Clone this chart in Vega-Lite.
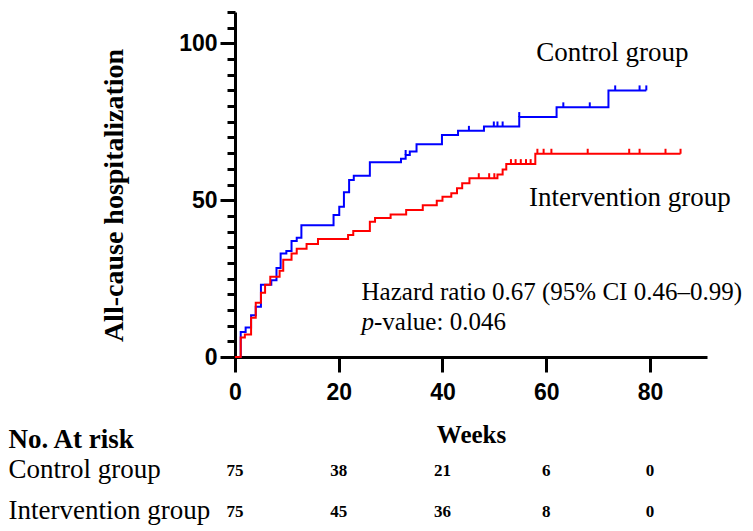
{
  "$schema": "https://vega.github.io/schema/vega-lite/v6.json",
  "padding": {"left": 8, "top": 10, "right": 2, "bottom": 2},
  "bounds": "flush",
  "spacing": 71,
  "config": {"view": {"stroke": null}, "axis": {"grid": false}},
  "datasets": {
    "curves": [
      {"group": "Control group", "week": 0, "pct": 0},
      {"group": "Control group", "week": 1.1, "pct": 8},
      {"group": "Control group", "week": 2.05, "pct": 9.4},
      {"group": "Control group", "week": 3.1, "pct": 13.3},
      {"group": "Control group", "week": 4.0, "pct": 16},
      {"group": "Control group", "week": 5.0, "pct": 23},
      {"group": "Control group", "week": 7.0, "pct": 24.5},
      {"group": "Control group", "week": 8.0, "pct": 28.4},
      {"group": "Control group", "week": 8.8, "pct": 33},
      {"group": "Control group", "week": 9.9, "pct": 33.8},
      {"group": "Control group", "week": 10.9, "pct": 37},
      {"group": "Control group", "week": 11.9, "pct": 38},
      {"group": "Control group", "week": 12.8, "pct": 42},
      {"group": "Control group", "week": 19.0, "pct": 45.3},
      {"group": "Control group", "week": 20.1, "pct": 47.9},
      {"group": "Control group", "week": 21.0, "pct": 52.5},
      {"group": "Control group", "week": 22.0, "pct": 56.4},
      {"group": "Control group", "week": 22.9, "pct": 57.8},
      {"group": "Control group", "week": 26.0, "pct": 62.1},
      {"group": "Control group", "week": 32.0, "pct": 63.2},
      {"group": "Control group", "week": 32.9, "pct": 64.4},
      {"group": "Control group", "week": 33.7, "pct": 65.5},
      {"group": "Control group", "week": 35.0, "pct": 67.8},
      {"group": "Control group", "week": 39.9, "pct": 70.8},
      {"group": "Control group", "week": 43.0, "pct": 72.1},
      {"group": "Control group", "week": 48.0, "pct": 73.5},
      {"group": "Control group", "week": 54.8, "pct": 76.5},
      {"group": "Control group", "week": 62.0, "pct": 79.6},
      {"group": "Control group", "week": 72.0, "pct": 85.0},
      {"group": "Control group", "week": 79.3, "pct": 85.0},
      {"group": "Intervention group", "week": 0, "pct": 0},
      {"group": "Intervention group", "week": 1.1, "pct": 6.2},
      {"group": "Intervention group", "week": 1.9, "pct": 7.2},
      {"group": "Intervention group", "week": 3.1, "pct": 12.5},
      {"group": "Intervention group", "week": 4.0, "pct": 17.3},
      {"group": "Intervention group", "week": 5.0, "pct": 20.5},
      {"group": "Intervention group", "week": 5.8, "pct": 23},
      {"group": "Intervention group", "week": 6.8, "pct": 25.6},
      {"group": "Intervention group", "week": 8.6, "pct": 27.5},
      {"group": "Intervention group", "week": 9.3, "pct": 31},
      {"group": "Intervention group", "week": 10.9, "pct": 33},
      {"group": "Intervention group", "week": 11.9, "pct": 34.5},
      {"group": "Intervention group", "week": 13.8, "pct": 36},
      {"group": "Intervention group", "week": 16.0, "pct": 37.6},
      {"group": "Intervention group", "week": 21.8, "pct": 38.9},
      {"group": "Intervention group", "week": 22.8, "pct": 40.2},
      {"group": "Intervention group", "week": 26.0, "pct": 43.1},
      {"group": "Intervention group", "week": 27.0, "pct": 44.3},
      {"group": "Intervention group", "week": 30.0, "pct": 45.4},
      {"group": "Intervention group", "week": 33.0, "pct": 46.9},
      {"group": "Intervention group", "week": 36.2, "pct": 48.4},
      {"group": "Intervention group", "week": 38.9, "pct": 49.8},
      {"group": "Intervention group", "week": 40.0, "pct": 51.1},
      {"group": "Intervention group", "week": 41.7, "pct": 52.2},
      {"group": "Intervention group", "week": 42.8, "pct": 53.8},
      {"group": "Intervention group", "week": 43.8, "pct": 55.4},
      {"group": "Intervention group", "week": 45.2, "pct": 57.0},
      {"group": "Intervention group", "week": 50.6, "pct": 58.2},
      {"group": "Intervention group", "week": 51.6, "pct": 59.8},
      {"group": "Intervention group", "week": 52.3, "pct": 61.5},
      {"group": "Intervention group", "week": 57.9, "pct": 64.8},
      {"group": "Intervention group", "week": 85.9, "pct": 64.8}
    ],
    "censored": [
      {"group": "Control group", "week": 32.9, "pct": 64.4},
      {"group": "Control group", "week": 45.1, "pct": 72.1},
      {"group": "Control group", "week": 49.9, "pct": 73.5},
      {"group": "Control group", "week": 50.6, "pct": 73.5},
      {"group": "Control group", "week": 51.6, "pct": 73.5},
      {"group": "Control group", "week": 54.8, "pct": 76.5},
      {"group": "Control group", "week": 63.3, "pct": 79.6},
      {"group": "Control group", "week": 68.4, "pct": 79.6},
      {"group": "Control group", "week": 73.3, "pct": 85.0},
      {"group": "Control group", "week": 78.0, "pct": 85.0},
      {"group": "Control group", "week": 79.3, "pct": 85.0},
      {"group": "Intervention group", "week": 47.0, "pct": 57.0},
      {"group": "Intervention group", "week": 49.0, "pct": 57.0},
      {"group": "Intervention group", "week": 50.0, "pct": 57.0},
      {"group": "Intervention group", "week": 53.2, "pct": 61.5},
      {"group": "Intervention group", "week": 54.1, "pct": 61.5},
      {"group": "Intervention group", "week": 55.1, "pct": 61.5},
      {"group": "Intervention group", "week": 56.1, "pct": 61.5},
      {"group": "Intervention group", "week": 57.0, "pct": 61.5},
      {"group": "Intervention group", "week": 58.3, "pct": 64.8},
      {"group": "Intervention group", "week": 59.5, "pct": 64.8},
      {"group": "Intervention group", "week": 61.0, "pct": 64.8},
      {"group": "Intervention group", "week": 68.0, "pct": 64.8},
      {"group": "Intervention group", "week": 76.0, "pct": 64.8},
      {"group": "Intervention group", "week": 78.0, "pct": 64.8},
      {"group": "Intervention group", "week": 83.0, "pct": 64.8},
      {"group": "Intervention group", "week": 85.9, "pct": 64.8}
    ],
    "notes": [
      {"note": "Control group", "week": 58.1, "pct": 96.8},
      {"note": "Intervention group", "week": 56.7, "pct": 50.8},
      {"note": "Hazard ratio 0.67 (95% CI 0.46–0.99)", "week": 24.4, "pct": 20.8},
      {"note": "p", "week": 24.4, "pct": 11.2},
      {"note": "-value: 0.046", "week": 26.8, "pct": 11.2}
    ],
    "atrisk": [
      {"group": "Control group", "week": 0, "n": 75},
      {"group": "Control group", "week": 20, "n": 38},
      {"group": "Control group", "week": 40, "n": 21},
      {"group": "Control group", "week": 60, "n": 6},
      {"group": "Control group", "week": 80, "n": 0},
      {"group": "Intervention group", "week": 0, "n": 75},
      {"group": "Intervention group", "week": 20, "n": 45},
      {"group": "Intervention group", "week": 40, "n": 36},
      {"group": "Intervention group", "week": 60, "n": 8},
      {"group": "Intervention group", "week": 80, "n": 0}
    ]
  },
  "vconcat": [
    {
      "width": 472,
      "height": 345,
      "encoding": {
        "x": {
          "field": "week", "type": "quantitative",
          "scale": {"domain": [0, 91], "nice": false, "zero": false},
          "axis": {
            "values": [0, 20, 40, 60, 80],
            "title": "Weeks", "titleFont": "Liberation Serif", "titleFontSize": 25, "titleFontWeight": "bold", "titleColor": "black", "titlePadding": 18,
            "domainColor": "black", "domainWidth": 3,
            "tickColor": "black", "tickWidth": 3, "tickSize": 15,
            "labelFont": "Liberation Sans", "labelFontWeight": "bold", "labelFontSize": 23, "labelColor": "black", "labelPadding": 9, "labelFlush": false
          }
        },
        "y": {
          "field": "pct", "type": "quantitative",
          "scale": {"domain": [0, 110], "nice": false},
          "axis": {
            "values": [0, 5, 10, 15, 20, 25, 30, 35, 40, 45, 50, 55, 60, 65, 70, 75, 80, 85, 90, 95, 100, 105, 110],
            "labelExpr": "datum.value % 50 === 0 ? datum.label : ''",
            "labelOverlap": false,
            "title": "All-cause hospitalization", "titleFont": "Liberation Serif", "titleFontSize": 28, "titleFontWeight": "bold", "titleColor": "black", "titlePadding": 50, "titleY": 183,
            "domainColor": "black", "domainWidth": 3,
            "tickColor": "black", "tickWidth": 3,
            "tickSize": {"condition": {"test": "datum.value % 50 === 0", "value": 15}, "value": 8},
            "labelFont": "Liberation Sans", "labelFontWeight": "bold", "labelColor": "black", "labelPadding": 3, "labelFlush": false,
            "labelFontSize": {"condition": {"test": "datum.value % 50 === 0", "value": 23}, "value": 0}
          }
        }
      },
      "layer": [
        {
          "data": {"name": "curves"},
          "mark": {"type": "line", "interpolate": "step-after", "strokeWidth": 2},
          "encoding": {
            "color": {
              "field": "group", "type": "nominal",
              "scale": {"domain": ["Control group", "Intervention group"], "range": ["#0000ff", "#ff0000"]},
              "legend": null
            }
          }
        },
        {
          "data": {"name": "censored"},
          "mark": {"type": "point", "shape": "M0,0V-1", "size": 100, "filled": false, "strokeWidth": 2, "opacity": 1},
          "encoding": {
            "color": {"field": "group", "type": "nominal", "legend": null}
          }
        },
        {
          "data": {"name": "notes"},
          "transform": [{"filter": "datum.note === 'Control group' || datum.note === 'Intervention group'"}],
          "mark": {"type": "text", "align": "left", "baseline": "middle", "font": "Liberation Serif", "fontSize": 27, "color": "black"},
          "encoding": {"text": {"field": "note", "type": "nominal"}}
        },
        {
          "data": {"name": "notes"},
          "transform": [{"filter": "datum.note !== 'Control group' && datum.note !== 'Intervention group' && datum.note !== 'p'"}],
          "mark": {"type": "text", "align": "left", "baseline": "middle", "font": "Liberation Serif", "fontSize": 25, "color": "black"},
          "encoding": {"text": {"field": "note", "type": "nominal"}}
        },
        {
          "data": {"name": "notes"},
          "transform": [{"filter": "datum.note === 'p'"}],
          "mark": {"type": "text", "align": "left", "baseline": "middle", "font": "Liberation Serif", "fontSize": 25, "fontStyle": "italic", "color": "black"},
          "encoding": {"text": {"field": "note", "type": "nominal"}}
        }
      ]
    },
    {
      "width": 472,
      "height": 82,
      "data": {"name": "atrisk"},
      "mark": {"type": "text", "font": "Liberation Serif", "fontWeight": "bold", "fontSize": 17, "baseline": "middle", "dy": 2, "color": "black"},
      "encoding": {
        "x": {"field": "week", "type": "quantitative", "scale": {"domain": [0, 91], "nice": false, "zero": false}, "axis": null},
        "y": {
          "field": "group", "type": "nominal",
          "scale": {"type": "point", "domain": ["No. At risk", "Control group", "Intervention group"], "padding": 0},
          "axis": {
            "title": null, "domain": false, "ticks": false, "tickSize": 0,
            "labelAlign": "left", "labelBaseline": "middle", "labelPadding": 227, "labelLimit": 0,
            "labelFont": "Liberation Serif", "labelFontSize": 27, "labelColor": "black",
            "labelFontWeight": {"condition": {"test": "datum.value === 'No. At risk'", "value": "bold"}, "value": "normal"},
            "labelOffset": {"condition": {"test": "datum.value === 'No. At risk'", "value": 11}, "value": 0}
          }
        },
        "text": {"field": "n", "type": "quantitative"}
      }
    }
  ]
}
